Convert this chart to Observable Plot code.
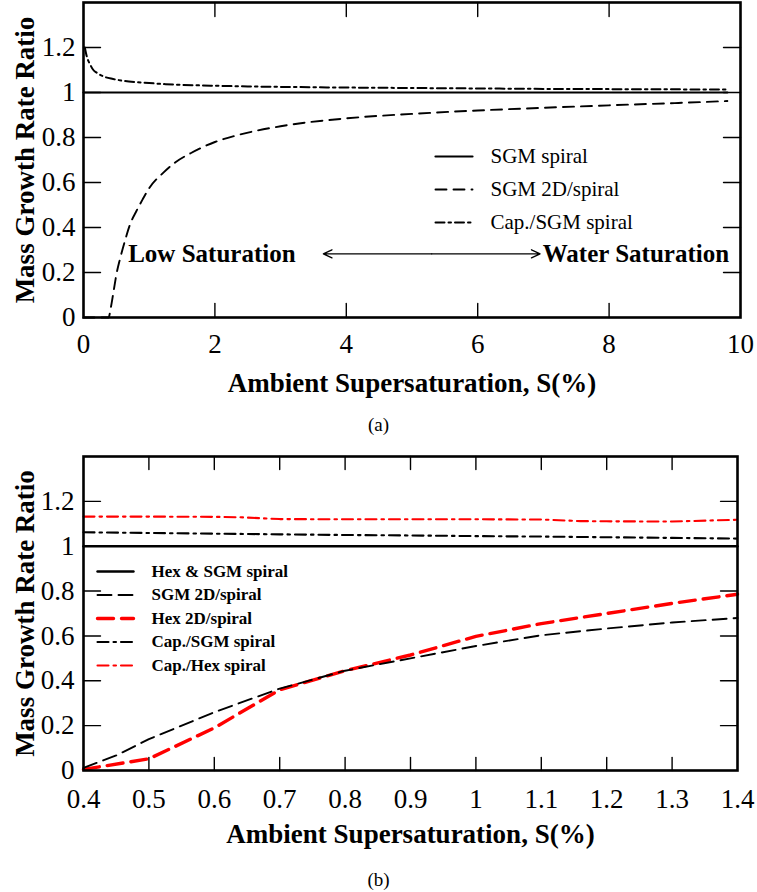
<!DOCTYPE html>
<html>
<head>
<meta charset="utf-8">
<script src="https://cdn.jsdelivr.net/npm/d3@7"></script>
<script src="https://cdn.jsdelivr.net/npm/@observablehq/plot@0.6"></script>
<style>
  body { margin: 0; background: #fff; overflow: hidden; }
  #page { position: relative; width: 757px; height: 892px; font-family: "Liberation Serif", "Times New Roman", serif; }
  .panel { position: absolute; left: 0; }
  .cap { position: absolute; left: 0; width: 757px; text-align: center; font-size: 19px; line-height: 24px; color: #000; }
</style>
</head>
<body>
<div id="page"></div>
<script>
// ---------- Panel (a): 0–10 % supersaturation ----------
const xTicksA = [0, 2, 4, 6, 8, 10];
const yTicks = [0, 0.2, 0.4, 0.6, 0.8, 1, 1.2];

const sgmSpiralA_x = [0, 9.8];
const sgmSpiralA_y = [1, 1];

const sgm2dA_x = [0, 0.38, 0.42, 0.46, 0.5, 0.56, 0.63, 0.71, 0.8, 0.9, 1, 1.22, 1.4, 1.63, 2, 2.34, 3, 4, 5, 6, 7, 8, 9, 9.8];
const sgm2dA_y = [0, 0, 0.05, 0.12, 0.19, 0.265, 0.34, 0.415, 0.47, 0.525, 0.575, 0.645, 0.69, 0.73, 0.78, 0.81, 0.85, 0.885, 0.905, 0.92, 0.932, 0.943, 0.953, 0.962];

const capSgmA_x = [0.02, 0.05, 0.1, 0.15, 0.2, 0.3, 0.45, 0.6, 0.8, 1, 1.25, 1.5, 2, 2.5, 3, 4, 5, 6, 7, 8, 9, 9.8];
const capSgmA_y = [1.2, 1.16, 1.125, 1.1, 1.088, 1.072, 1.06, 1.052, 1.046, 1.042, 1.037, 1.034, 1.03, 1.027, 1.025, 1.022, 1.02, 1.018, 1.016, 1.015, 1.014, 1.013];

const legendA = ["SGM spiral", "SGM 2D/spiral", "Cap./SGM spiral"];

// annotation: saturation regimes
const regimeLabels = ["Low Saturation", "Water Saturation"];
const regimeX = [0.68, 6.99];
const regimeY = 0.283;
const arrowSpan = [3.65, 6.95];

// ---------- Panel (b): 0.4–1.4 % supersaturation ----------
const xTicksB = [0.4, 0.5, 0.6, 0.7, 0.8, 0.9, 1, 1.1, 1.2, 1.3, 1.4];

const hexSgmB_x = [0.4, 1.4];
const hexSgmB_y = [1, 1];

const sgm2dB_x = [0.4, 0.45, 0.5, 0.6, 0.7, 0.8, 0.9, 1.0, 1.1, 1.2, 1.3, 1.4];
const sgm2dB_y = [0.012, 0.067, 0.14, 0.26, 0.365, 0.445, 0.50, 0.555, 0.603, 0.633, 0.66, 0.68];

const sB_x = [0.4, 0.5, 0.6, 0.7, 0.8, 0.9, 1.0, 1.1, 1.2, 1.3, 1.4];
const hex2dB_y = [0.005, 0.052, 0.19, 0.36, 0.445, 0.515, 0.598, 0.655, 0.70, 0.745, 0.786];
const capSgmB_y = [1.062, 1.059, 1.056, 1.053, 1.05, 1.048, 1.045, 1.043, 1.04, 1.037, 1.034];
const capHexB_x = [0.4, 0.5, 0.6, 0.64, 0.7, 0.8, 0.9, 1.0, 1.1, 1.16, 1.2, 1.3, 1.4];
const capHexB_y = [1.132, 1.132, 1.131, 1.129, 1.121, 1.12, 1.12, 1.12, 1.119, 1.112, 1.111, 1.11, 1.118];

const legendB = ["Hex & SGM spiral", "SGM 2D/spiral", "Hex 2D/spiral", "Cap./SGM spiral", "Cap./Hex spiral"];

// ---------- helpers ----------
const zip = (xs, ys) => xs.map((x, i) => ({x, y: ys[i]}));
const fmt = d => String(d);
// a straight segment of length l, drawn "upward" before rotation
const segment = {draw(ctx, l) { ctx.moveTo(0, 0); ctx.lineTo(0, -l); }};

function innerTicks(xt, yt, xLen, yLen) {
  const o = {shape: segment, anchor: "start", stroke: "black", strokeWidth: 1.4};
  return [
    Plot.vector(xt, {...o, x: d => d, frameAnchor: "bottom", length: xLen, rotate: 0}),
    Plot.vector(xt, {...o, x: d => d, frameAnchor: "top", length: xLen, rotate: 180}),
    Plot.vector(yt, {...o, y: d => d, frameAnchor: "left", length: yLen, rotate: 90}),
    Plot.vector(yt, {...o, y: d => d, frameAnchor: "right", length: yLen, rotate: -90})
  ];
}

function legendMarks(items, styles, {dx0, dy0, step, len, textDx, fontSize, fontWeight}) {
  const marks = [];
  items.forEach((label, i) => {
    const s = styles[i];
    marks.push(Plot.vector([label], {
      frameAnchor: "top-left", dx: dx0, dy: dy0 + i * step, length: len, rotate: 90,
      anchor: "start", shape: segment, stroke: s.stroke, strokeWidth: s.width,
      strokeDasharray: s.dash
    }));
    marks.push(Plot.text([label], {
      frameAnchor: "top-left", dx: dx0 + textDx, dy: dy0 + i * step,
      textAnchor: "start", lineAnchor: "middle", fontSize, fontWeight, fill: "black"
    }));
  });
  return marks;
}

const baseStyle = {
  fontFamily: "'Liberation Serif', 'Times New Roman', serif",
  fontSize: "27px", background: "transparent", color: "black", overflow: "visible"
};

// ---------- styles ----------
const stA = [
  {stroke: "black", width: 2.2, dash: null},
  {stroke: "black", width: 1.9, dash: "11,7"},
  {stroke: "black", width: 2, dash: "9,4,2.5,4"}
];
const stB = [
  {stroke: "black", width: 2.4, dash: null},
  {stroke: "black", width: 1.9, dash: "14,7"},
  {stroke: "#ff0000", width: 3.4, dash: "16,8"},
  {stroke: "black", width: 2.1, dash: "11,5,2.5,5"},
  {stroke: "#ff0000", width: 2.1, dash: "11,5,2.5,5"}
];

function titles(dyX) {
  return [
    Plot.text(["Ambient Supersaturation, S(%)"], {frameAnchor: "bottom", dy: dyX, textAnchor: "middle", lineAnchor: "middle", fontWeight: "bold", fontSize: 27}),
    Plot.text(["Mass Growth Rate Ratio"], {frameAnchor: "left", dx: -58, rotate: -90, textAnchor: "middle", lineAnchor: "middle", fontWeight: "bold", fontSize: 27})
  ];
}

// ---------- Panel (a) ----------
const plotA = Plot.plot({
  width: 757, height: 410,
  marginTop: 2, marginLeft: 83, marginRight: 17, marginBottom: 93,
  style: baseStyle,
  x: {domain: [0, 10]},
  y: {domain: [0, 1.4]},
  marks: [
    Plot.ruleY(sgmSpiralA_y.slice(0, 1), {stroke: "black", strokeWidth: 1}),
    Plot.line(zip(sgmSpiralA_x, sgmSpiralA_y), {x: "x", y: "y", stroke: stA[0].stroke, strokeWidth: stA[0].width}),
    Plot.line(zip(sgm2dA_x, sgm2dA_y), {x: "x", y: "y", stroke: stA[1].stroke, strokeWidth: stA[1].width, strokeDasharray: stA[1].dash, curve: "monotone-x"}),
    Plot.line(zip(capSgmA_x, capSgmA_y), {x: "x", y: "y", stroke: stA[2].stroke, strokeWidth: stA[2].width, strokeDasharray: stA[2].dash, curve: "monotone-x"}),
    ...innerTicks(xTicksA.slice(1, -1), yTicks.slice(1), 14, 17),
    Plot.frame({stroke: "black", strokeWidth: 2.6}),
    Plot.axisX({ticks: xTicksA, tickSize: 0, tickPadding: 16, tickFormat: fmt, label: null, fontSize: 27}),
    Plot.axisY({ticks: yTicks, tickSize: 0, tickPadding: 8, tickFormat: fmt, label: null, fontSize: 27}),
    ...titles(66),
    Plot.text(regimeLabels, {x: (d, i) => regimeX[i], y: () => regimeY, textAnchor: "start", fontWeight: "bold", fontSize: 25}),
    Plot.arrow(arrowSpan, {x1: () => (arrowSpan[0] + arrowSpan[1]) / 2, x2: d => d, y1: () => regimeY, y2: () => regimeY,
      stroke: "black", strokeWidth: 1.3, headLength: 11, headAngle: 50}),
    ...legendMarks(legendA, stA, {dx0: 352, dy0: 154, step: 33, len: 37, textDx: 55, fontSize: 21, fontWeight: "normal"})
  ]
});

// ---------- Panel (b) ----------
const plotB = Plot.plot({
  width: 757, height: 420,
  marginTop: 16, marginLeft: 83, marginRight: 20, marginBottom: 90,
  style: baseStyle,
  x: {domain: [0.4, 1.4]},
  y: {domain: [0, 1.4]},
  marks: [
    Plot.line(zip(hexSgmB_x, hexSgmB_y), {x: "x", y: "y", stroke: stB[0].stroke, strokeWidth: stB[0].width}),
    Plot.line(zip(sB_x, capSgmB_y), {x: "x", y: "y", stroke: stB[3].stroke, strokeWidth: stB[3].width, strokeDasharray: stB[3].dash}),
    Plot.line(zip(capHexB_x, capHexB_y), {x: "x", y: "y", stroke: stB[4].stroke, strokeWidth: stB[4].width, strokeDasharray: stB[4].dash}),
    Plot.line(zip(sB_x, hex2dB_y), {x: "x", y: "y", stroke: stB[2].stroke, strokeWidth: stB[2].width, strokeDasharray: stB[2].dash}),
    Plot.line(zip(sgm2dB_x, sgm2dB_y), {x: "x", y: "y", stroke: stB[1].stroke, strokeWidth: stB[1].width, strokeDasharray: stB[1].dash}),
    ...innerTicks(xTicksB.slice(1, -1), yTicks.slice(1), 13, 17),
    Plot.frame({stroke: "black", strokeWidth: 2.6}),
    Plot.axisX({ticks: xTicksB, tickSize: 0, tickPadding: 18, tickFormat: fmt, label: null, fontSize: 27}),
    Plot.axisY({ticks: yTicks, tickSize: 0, tickPadding: 9, tickFormat: fmt, label: null, fontSize: 27}),
    ...titles(64),
    ...legendMarks(legendB, stB, {dx0: 14, dy0: 115, step: 23.5, len: 36, textDx: 54, fontSize: 17, fontWeight: "bold"})
  ]
});

const page = document.getElementById("page");
function place(node, top) {
  node.classList.add("panel");
  node.style.top = top + "px";
  page.appendChild(node);
}
place(plotA, 0);
place(plotB, 440);

function caption(text, top) {
  const d = document.createElement("div");
  d.className = "cap";
  d.style.top = top + "px";
  d.textContent = text;
  page.appendChild(d);
}
caption("(a)", 413);
caption("(b)", 868);
</script>
</body>
</html>
